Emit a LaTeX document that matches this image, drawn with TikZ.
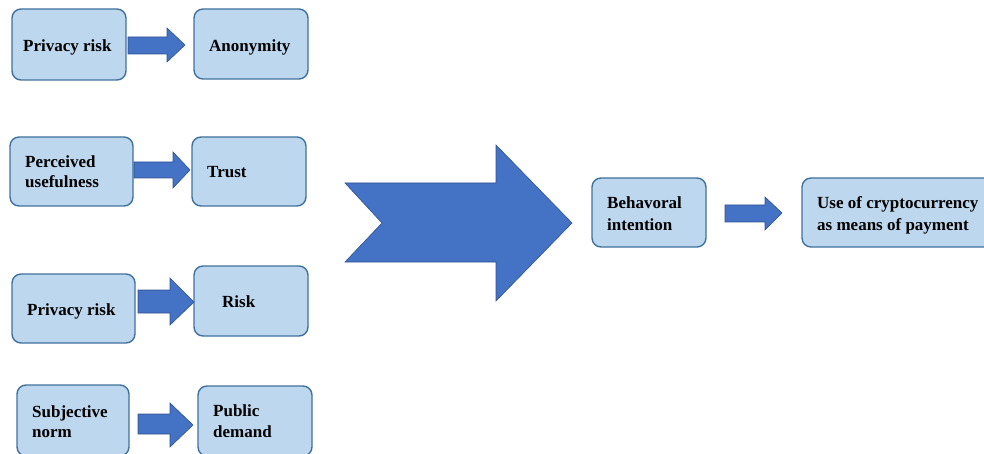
\documentclass[tikz,border=0pt]{standalone}
\usepackage{fontspec}
\setmainfont{Liberation Serif}
\definecolor{boxfill}{HTML}{BDD7EE}
\definecolor{boxline}{HTML}{41719C}
\definecolor{arrfill}{HTML}{4472C4}
\definecolor{arrline}{HTML}{2F528F}
\newcommand\blockarr[8]{%
  \draw[arr] (#1,#3) -- (#2,#3) -- (#2,#5) -- (#7,#8) -- (#2,#6) -- (#2,#4) -- (#1,#4) -- cycle;}
\begin{document}
\begin{tikzpicture}[x=1pt,y=-1pt,
  box/.style={draw=boxline,fill=boxfill,line width=1.4pt,rounded corners=9pt,inner sep=0pt},
  lbl/.style={anchor=base west,inner sep=0pt,font=\fontsize{17}{20}\selectfont\bfseries},
  arr/.style={fill=arrfill,draw=arrline,line width=0.6pt,line join=miter}]
\useasboundingbox (0,0) rectangle (984,454);
\clip (0,0) rectangle (984,454);
% boxes
\node[box,minimum width=114pt,minimum height=71pt] (b1) at (69,44.5) {};
\node[box,minimum width=114pt,minimum height=70pt] (a1) at (251,44) {};
\node[box,minimum width=123pt,minimum height=69pt] (b2) at (71.5,171.5) {};
\node[box,minimum width=114pt,minimum height=69pt] (t2) at (249,171.5) {};
\node[box,minimum width=123pt,minimum height=69pt] (b3) at (73.5,308.5) {};
\node[box,minimum width=114pt,minimum height=70pt] (r3) at (251,301) {};
\node[box,minimum width=112pt,minimum height=71pt] (b4) at (73,420.5) {};
\node[box,minimum width=114pt,minimum height=70pt] (p4) at (255,421) {};
\node[box,minimum width=114pt,minimum height=69pt] (bi) at (649,212.5) {};
\node[box,minimum width=198pt,minimum height=69pt] (uc) at (901,212.5) {};
% labels
\node[lbl] (l1) at (23,52) {Privacy risk};
\node[lbl] (l2) at (209,52) {Anonymity};
\node[lbl] (l3a) at (25,168) {Perceived};
\node[lbl] (l3b) at (25,188) {usefulness};
\node[lbl] (l4) at (207,178) {Trust};
\node[lbl] (l5) at (27,315) {Privacy risk};
\node[lbl] (l6) at (222,307) {Risk};
\node[lbl] (l7a) at (32,417) {Subjective};
\node[lbl] (l7b) at (32,437) {norm};
\node[lbl] (l8a) at (213,416) {Public};
\node[lbl] (l8b) at (213,437) {demand};
\node[lbl] (l9a) at (607,209) {Behavoral};
\node[lbl] (l9b) at (607,230) {intention};
\node[lbl] (l10a) at (817,209) {Use of cryptocurrency};
\node[lbl] (l10b) at (817,230) {as means of payment};
% block arrows
\blockarr{128}{167}{37}{54}{28}{62}{185}{45}
\blockarr{134}{173}{162}{178}{152}{188}{190}{170}
\blockarr{138}{170}{290}{313}{278}{325}{194}{302}
\blockarr{138}{170}{414}{434}{403}{447}{193}{425}
\blockarr{725}{765}{205}{222}{197}{230}{782}{213}
% big arrow
\draw[arr] (345,183) -- (496,183) -- (496,145) -- (572,223) -- (496,301) -- (496,262) -- (345,262) -- (382,223) -- cycle;
\end{tikzpicture}
\end{document}
